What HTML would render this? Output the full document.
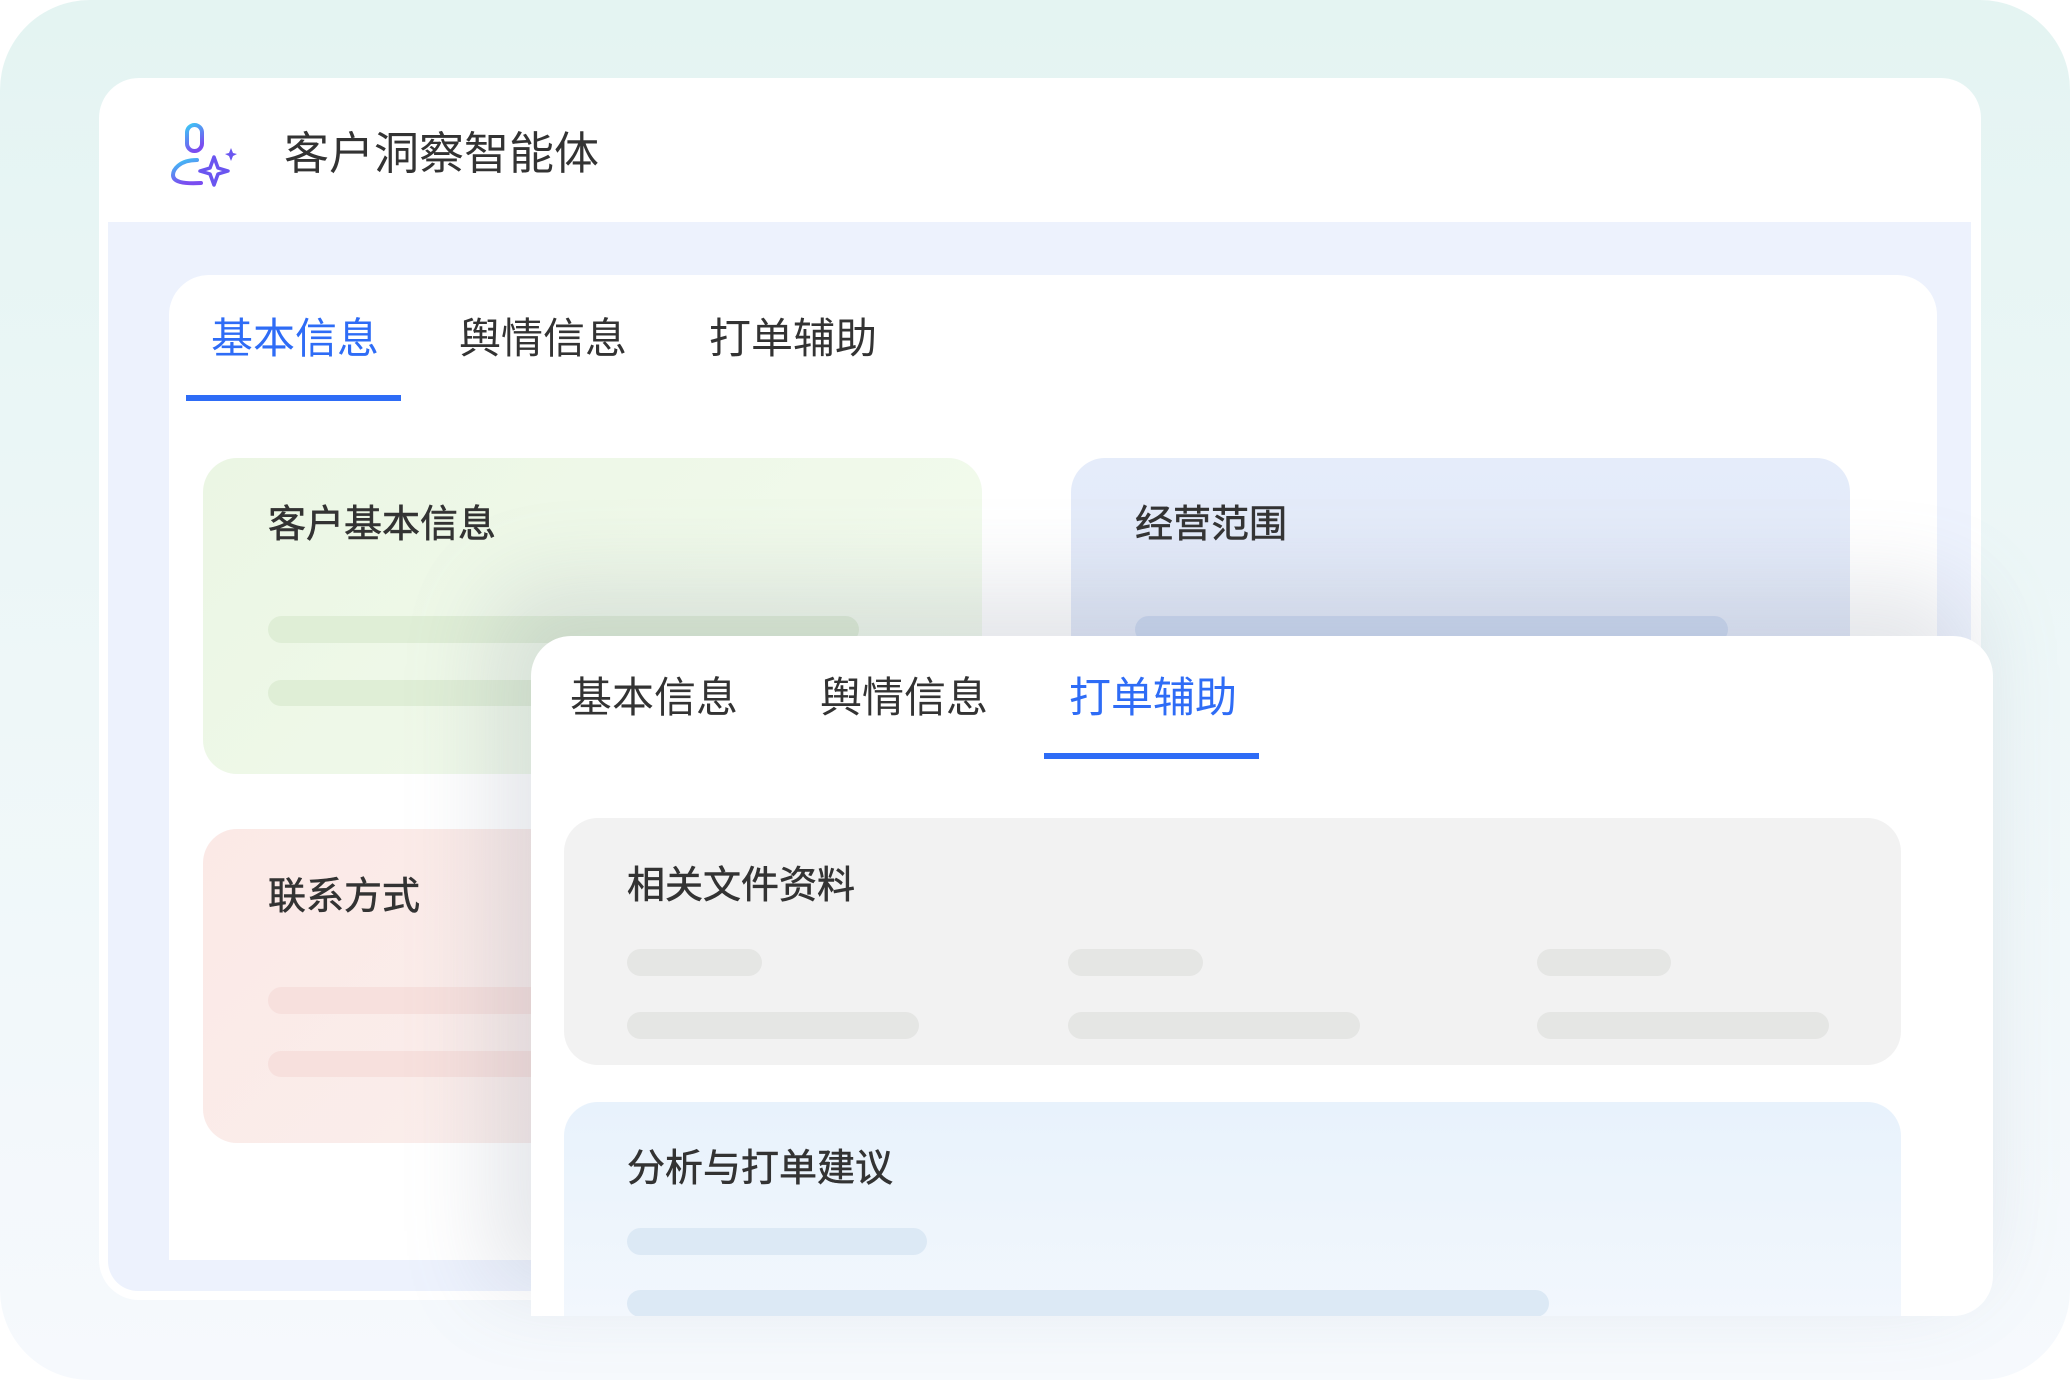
<!DOCTYPE html>
<html><head><meta charset="utf-8"><style>
*{margin:0;padding:0;box-sizing:border-box}
body{width:2070px;height:1380px;overflow:hidden;background:#fff;font-family:"Liberation Sans","Noto Sans CJK SC",sans-serif;color:#333}
.bg{position:absolute;left:0;top:0;width:2070px;height:1380px;border-radius:90px;background:linear-gradient(180deg,#e4f4f2 0%,#eef7f8 50%,#f6f9fd 100%)}
.abs{position:absolute}
.main{left:99px;top:78px;width:1882px;height:1222px;background:#fff;border-radius:40px}
.blue{left:108px;top:222px;width:1863px;height:1069px;background:#edf2fd;border-radius:0 0 30px 30px}
.inner{left:169px;top:275px;width:1768px;height:985px;background:#fff;border-radius:40px 40px 0 0}
.t{position:absolute;white-space:nowrap;line-height:1}
.ct{font-size:38px;font-weight:400;-webkit-text-stroke:0.6px #333;color:#333}
.card{position:absolute;border-radius:34px}
.bar{position:absolute;border-radius:14px}
</style></head><body>
<div class="bg"></div>
<div class="abs main"></div>
<svg class="abs" style="left:165px;top:120px" width="75" height="68" viewBox="0 0 75 68">
<defs><linearGradient id="g" x1="0" y1="0" x2="0.4" y2="1"><stop offset="0" stop-color="#3cc8f5"/><stop offset="1" stop-color="#7a4df0"/></linearGradient></defs>
<rect x="22" y="5" width="15" height="26" rx="7.5" fill="none" stroke="url(#g)" stroke-width="4"/>
<path d="M32 40 C14 40 8 50 8 55 C8 62 18 64 36 63" fill="none" stroke="url(#g)" stroke-width="4" stroke-linecap="round"/>
<path d="M49 37 L53 48 L63 51 L53 54 L49 65 L45 54 L35 51 L45 48 Z" fill="none" stroke="#6a55f0" stroke-width="3.5" stroke-linejoin="round"/>
<path d="M66 28 L68 33 L72 34 L68 36 L66 41 L64 36 L60 34 L64 33 Z" fill="#6a55f0"/>
</svg>
<div class="t" style="left:284px;top:131px;font-size:45px;color:#333">客户洞察智能体</div>
<div class="abs blue"></div>
<div class="abs inner"></div>
<div class="t" style="left:211px;top:318px;font-size:42px;color:#2e6cf6">基本信息</div>
<div class="t" style="left:459px;top:318px;font-size:42px">舆情信息</div>
<div class="t" style="left:709px;top:318px;font-size:42px">打单辅助</div>
<div class="abs" style="left:186px;top:395px;width:215px;height:6px;background:#2e6cf6"></div>

<div class="card" style="left:203px;top:458px;width:779px;height:316px;background:linear-gradient(135deg,#ebf6e4,#f3fbee)"></div>
<div class="t ct" style="left:268px;top:506px">客户基本信息</div>
<div class="bar" style="left:268px;top:616px;width:591px;height:27px;background:#dfeed6"></div>
<div class="bar" style="left:268px;top:680px;width:400px;height:26px;background:#dfeed6"></div>

<div class="card" style="left:1071px;top:458px;width:779px;height:316px;background:linear-gradient(180deg,#e5ecfa,#dfe6f6)"></div>
<div class="t ct" style="left:1135px;top:506px">经营范围</div>
<div class="bar" style="left:1135px;top:616px;width:593px;height:27px;background:#ccd9f1"></div>

<div class="card" style="left:203px;top:829px;width:600px;height:314px;background:linear-gradient(135deg,#fbe9e6,#faf0ee)"></div>
<div class="t ct" style="left:268px;top:878px">联系方式</div>
<div class="bar" style="left:268px;top:987px;width:400px;height:27px;background:#f7e0dd"></div>
<div class="bar" style="left:268px;top:1051px;width:400px;height:26px;background:#f7e0dd"></div>

<div class="abs" style="left:531px;top:636px;width:1462px;height:680px;background:#fff;border-radius:40px 40px 40px 0;box-shadow:-30px -40px 90px 10px rgba(120,130,150,0.2);overflow:hidden">
  <div class="t" style="left:39px;top:41px;font-size:42px">基本信息</div>
  <div class="t" style="left:289px;top:41px;font-size:42px">舆情信息</div>
  <div class="t" style="left:538px;top:41px;font-size:42px;color:#2e6cf6">打单辅助</div>
  <div class="abs" style="left:513px;top:117px;width:215px;height:6px;background:#2e6cf6"></div>
  <div class="card" style="left:33px;top:182px;width:1337px;height:247px;background:#f2f2f2"></div>
  <div class="t ct" style="left:96px;top:231px">相关文件资料</div>
  <div class="bar" style="left:96px;top:313px;width:135px;height:27px;background:#e5e6e4"></div>
  <div class="bar" style="left:537px;top:313px;width:135px;height:27px;background:#e5e6e4"></div>
  <div class="bar" style="left:1006px;top:313px;width:134px;height:27px;background:#e5e6e4"></div>
  <div class="bar" style="left:96px;top:376px;width:292px;height:27px;background:#e5e6e4"></div>
  <div class="bar" style="left:537px;top:376px;width:292px;height:27px;background:#e5e6e4"></div>
  <div class="bar" style="left:1006px;top:376px;width:292px;height:27px;background:#e5e6e4"></div>
  <div class="card" style="left:33px;top:466px;width:1337px;height:260px;background:linear-gradient(180deg,#e8f2fc,#f4f8fd)"></div>
  <div class="t ct" style="left:96px;top:514px">分析与打单建议</div>
  <div class="bar" style="left:96px;top:592px;width:300px;height:27px;background:#dce9f5"></div>
  <div class="bar" style="left:96px;top:654px;width:922px;height:27px;background:#dce9f5"></div>
</div>
</body></html>
